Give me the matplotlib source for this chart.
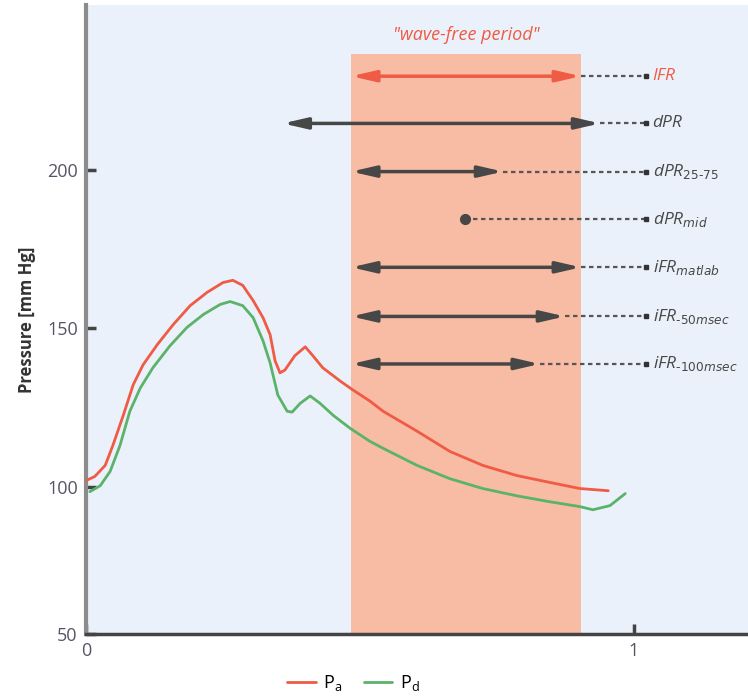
import numpy as np
import matplotlib
matplotlib.use("Agg")
from matplotlib import pyplot as plt

plt.rcParams['font.family'] = ['Open Sans', 'DejaVu Sans']
plt.rcParams['mathtext.default'] = 'it'

# pressure curves (time in s, pressure in mm Hg)
pa_t = [0, .016, .035, .049, .068, .086, .104, .130, .159, .190, .221, .250, .268,
        .286, .305, .323, .336, .345, .354, .363, .381, .400, .414, .432, .464, .487,
        .518, .542, .604, .664, .724, .786, .847, .901, .953]
pa_p = [101.9, 103.2, 106.7, 113.0, 122.5, 132.1, 138.4, 144.8, 151.1, 157.1, 161.3,
        164.4, 165.1, 163.5, 158.7, 153.3, 147.9, 139.7, 135.9, 136.8, 141.3, 144.1,
        141.3, 137.5, 133.3, 130.5, 127.0, 123.8, 117.5, 111.1, 106.7, 103.5, 101.3,
        99.4, 98.7]

pd_t = [.007, .026, .044, .062, .080, .099, .122, .153, .184, .214, .245, .263, .286,
        .305, .323, .336, .350, .367, .376, .391, .409, .427, .451, .482, .518, .542,
        .604, .664, .724, .786, .847, .901, .925, .956, .984]
pd_p = [98.4, 100.3, 104.8, 113.0, 123.8, 131.1, 137.5, 144.4, 150.2, 154.3, 157.5,
        158.4, 157.1, 153.3, 146.0, 139.0, 128.9, 123.8, 123.5, 126.3, 128.6, 126.3,
        122.5, 118.4, 114.3, 112.1, 106.7, 102.5, 99.4, 97.1, 95.2, 93.7, 92.7, 94.0,
        97.8]

# wave-free period window
wfp_start, wfp_end, wfp_top = 0.484, 0.903, 236.5

# index rows: label, y level, start, end (None start = single point)
idx_labels = ['IFR', 'dPR', 'dPR$_{25\u201075}$', 'dPR$_{mid}$', 'iFR$_{matlab}$',
              'iFR$_{\u201050msec}$', 'iFR$_{\u2010100msec}$']
idx_y = [229.5, 214.6, 199.4, 184.4, 169.2, 153.7, 138.7]
idx_start = [0.484, 0.359, 0.484, None, 0.484, 0.484, 0.484]
idx_end = [0.903, 0.938, 0.761, 0.692, 0.903, 0.874, 0.828]
dash_end = 1.022

red = '#ef5b45'
green = '#5bb36a'
dark = '#474747'

fig = plt.figure(figsize=(7.48, 6.99), dpi=100)
ax = fig.add_axes([0.115, 0.093, 0.885, 0.9])
ax.set_facecolor('#eaf1fa')

ax.axvspan(wfp_start, wfp_end, ymax=(wfp_top - 53.5) / (252 - 53.5),
           color='#f8bba3', lw=0, zorder=1)

ax.plot(pa_t, pa_p, color=red, lw=2, zorder=3, label=r'$\mathregular{P_a}$',
        solid_joinstyle='round', solid_capstyle='round')
ax.plot(pd_t, pd_p, color=green, lw=2, zorder=3, label=r'$\mathregular{P_d}$',
        solid_joinstyle='round', solid_capstyle='round')

for i, lab in enumerate(idx_labels):
    y = idx_y[i]
    col = red if lab == 'IFR' else dark
    if idx_start[i] is None:
        ax.plot(idx_end[i], y, 'o', color=dark, ms=7, zorder=5)
    else:
        ax.annotate('', xy=(idx_end[i], y), xytext=(idx_start[i], y),
                    arrowprops=dict(arrowstyle='<|-|>,head_length=1.3,head_width=0.3',
                                    color=col, lw=2.5, shrinkA=0, shrinkB=0,
                                    mutation_scale=11), zorder=5)
    ax.plot([idx_end[i], dash_end], [y, y], color='#555555', lw=1.6,
            dashes=(2, 1.6), zorder=4)
    ax.plot(dash_end, y, 's', color='#333333', ms=3, zorder=4)
    ax.text(dash_end + 0.012, y, lab, color=col, fontsize=12.5, fontstyle='italic',
            va='center', ha='left', zorder=6)

ax.text((wfp_start + wfp_end) / 2, 242.5, '"wave-free period"', color=red,
        fontsize=13, fontstyle='italic', ha='center', va='center')

ax.set_xlim(0, 1.208)
ax.set_ylim(53.5, 252)
ax.set_xticks([0, 1])
ax.set_xticklabels(['0', '1'])
ax.set_yticks([53.5, 100, 150, 200])
ax.set_yticklabels(['50', '100', '150', '200'])
ax.tick_params(direction='in', length=7, width=2.5, color='#444444',
               labelcolor='#555566', labelsize=13, pad=6)
ax.set_ylabel('Pressure [mm Hg]', fontsize=12, color='#333333', fontweight='bold',
              labelpad=8)

for s in ['top', 'right']:
    ax.spines[s].set_visible(False)
ax.spines['left'].set_color('#8c8c8c')
ax.spines['left'].set_linewidth(3)
ax.spines['bottom'].set_color('#444444')
ax.spines['bottom'].set_linewidth(2.5)

fig.legend(loc='lower center', bbox_to_anchor=(0.472, -0.015), ncol=2, frameon=False,
           fontsize=13, handlelength=1.6, columnspacing=1.2, handletextpad=0.4)

fig.savefig('out.png', dpi=100)
